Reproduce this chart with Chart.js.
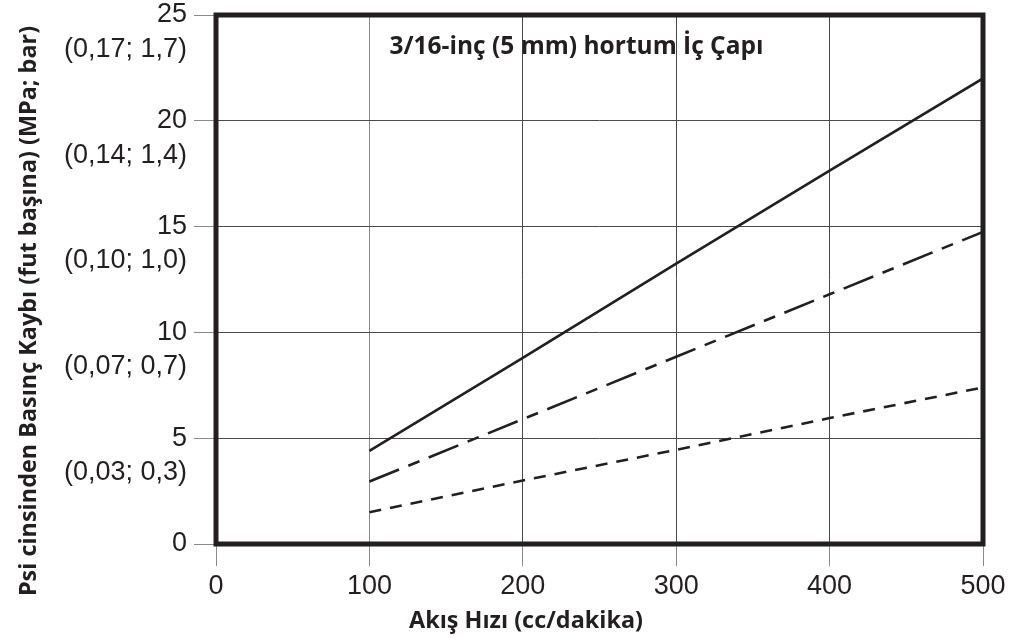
<!DOCTYPE html>
<html><head><meta charset="utf-8">
<script src="https://cdn.jsdelivr.net/npm/chart.js@4/dist/chart.umd.min.js"></script>
<style>html,body{margin:0;padding:0;background:#fff}#wrap{width:1020px;height:638px}</style>
</head><body><div id="wrap"><canvas id="c" width="1020" height="638"></canvas></div>
<script>
const flowRates = [100, 200, 300, 400, 500];
const solidLine = [4.4, 8.8, 13.25, 17.65, 22.0];
const dashDotLine = [2.95, 5.9, 8.85, 11.8, 14.75];
const dashedLine = [1.5, 3.0, 4.45, 5.95, 7.4];
const psiTicks = [0, 5, 10, 15, 20, 25];
const metricLabels = ['', '(0,03; 0,3)', '(0,07; 0,7)', '(0,10; 1,0)', '(0,14; 1,4)', '(0,17; 1,7)'];
const chartTitle = '3/16-inç (5 mm) hortum İç Çapı';
const xTitle = 'Akış Hızı (cc/dakika)';
const yTitle = 'Psi cinsinden Basınç Kaybı (fut başına) (MPa; bar)';

const INK = '#231f20';
const METRIC_OFFSET = 1.62;

function pts(ys){ return flowRates.map((x,i)=>({x:x, y:ys[i]})); }

const frame = {
  id:'frame',
  afterDatasetsDraw(chart){
    const {ctx, chartArea:a} = chart;
    ctx.save();
    ctx.strokeStyle = INK; ctx.lineWidth = 5;
    ctx.strokeRect(a.left, a.top, a.right-a.left, a.bottom-a.top);
    ctx.restore();
  }
};
const texts = {
  id:'texts',
  afterDraw(chart){
    const {ctx} = chart;
    const xs = chart.scales.x, ys = chart.scales.y;
    ctx.save();
    ctx.fillStyle = INK;
    ctx.textAlign = 'center'; ctx.textBaseline = 'middle';
    ctx.font = 'bold 24.5px "Open Sans"';
    ctx.fillText(chartTitle, xs.getPixelForValue(235), ys.getPixelForValue(23.5));
    ctx.font = 'bold 23.4px "Open Sans"';
    ctx.fillText(xTitle, 526, 621);
    ctx.translate(29, 311);
    ctx.rotate(-Math.PI/2);
    ctx.fillText(yTitle, 0, 0);
    ctx.restore();
  }
};

new Chart(document.getElementById('c'), {
  type:'line',
  data:{
    datasets:[
      {data:pts(solidLine), borderColor:INK, borderWidth:2.6, pointRadius:0, fill:false},
      {data:pts(dashDotLine), borderColor:INK, borderWidth:2.6, borderDash:[32,10,12,10], pointRadius:0, fill:false},
      {data:pts(dashedLine), borderColor:INK, borderWidth:2.6, borderDash:[12,9], pointRadius:0, fill:false}
    ]
  },
  options:{
    responsive:false, animation:false,
    layout:{padding:{top:15, right:37, left:0, bottom:0}},
    plugins:{legend:{display:false}, tooltip:{enabled:false}, title:{display:false}},
    scales:{
      x:{
        type:'linear', min:0, max:500,
        afterFit(s){ s.height = 94; s.paddingLeft = 0; s.paddingRight = 0; },
        afterBuildTicks(s){ s.ticks = [0,100,200,300,400,500].map(v=>({value:v})); },
        ticks:{stepSize:100, color:INK, font:{family:'"Liberation Sans", Arial', size:27}, padding:4, maxRotation:0,
          callback:(v)=>String(v)},
        grid:{color:(c)=> c.tick && c.tick.value===100 ? '#8a8a8a' : '#4a4a4a', lineWidth:1, tickLength:22, tickColor:'#8a8a8a', drawTicks:true},
        border:{display:false}
      },
      y:{
        type:'linear', min:0, max:25,
        afterFit(s){ s.width = 216; s.paddingTop = 0; s.paddingBottom = 0; },
        afterBuildTicks(s){
          const t = [];
          psiTicks.forEach((v,i)=>{
            t.push({value:v});
            if (i>0) t.push({value:v-METRIC_OFFSET, metric:i});
          });
          t.sort((a,b)=>a.value-b.value);
          s.ticks = t;
        },
        ticks:{autoSkip:false, color:INK, font:{family:'"Liberation Sans", Arial', size:27}, padding:7,
          callback:function(v, i, ticks){
            const t = ticks[i];
            if (t.metric) return metricLabels[t.metric];
            return String(Math.round(v));
          }},
        grid:{
          color:(c)=> (c.tick && c.tick.metric) ? 'rgba(0,0,0,0)' : '#4a4a4a',
          tickColor:(c)=> (c.tick && c.tick.metric) ? 'rgba(0,0,0,0)' : '#8a8a8a',
          lineWidth:1, tickLength:22, drawTicks:true
        },
        border:{display:false}
      }
    }
  },
  plugins:[frame, texts]
});
</script>
</body></html>
